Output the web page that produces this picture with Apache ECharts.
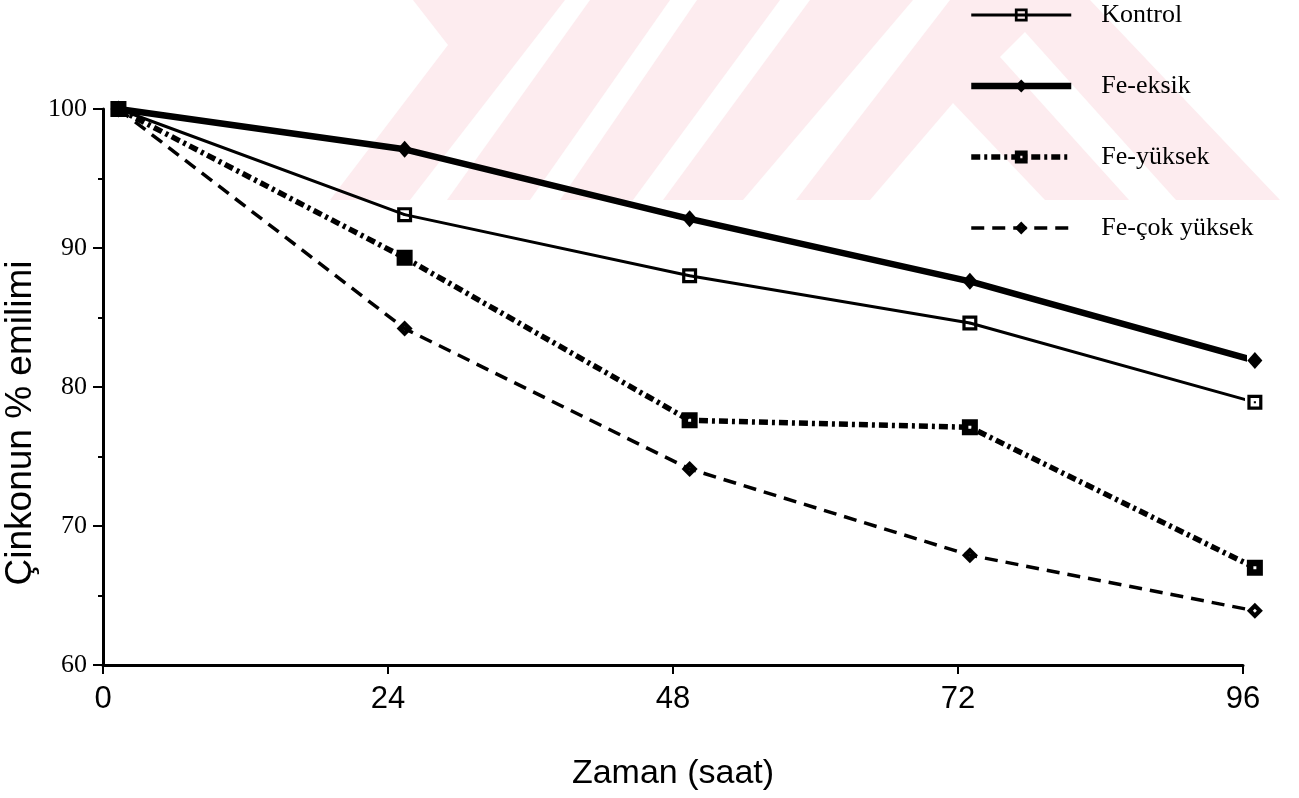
<!DOCTYPE html>
<html>
<head>
<meta charset="utf-8">
<title>Çinkonun % emilimi</title>
<script src="https://cdn.jsdelivr.net/npm/echarts@6/dist/echarts.min.js"></script>
<style>
html, body { margin: 0; padding: 0; background: #fff; }
#chart { width: 1299px; height: 798px; }
</style>
</head>
<body>
<div id="chart"></div>
<script>
// zaman (saat) - noktalar tik'lerin biraz sağında çizilmiş
var saatler = [1.3, 25.4, 49.4, 73.0, 97.0];
var kontrol = [100, 92.4, 88.0, 84.6, 78.9];
var feEksik = [100, 97.1, 92.1, 87.6, 81.9];
var feYuksek = [100, 89.3, 77.6, 77.1, 67.0];
var feCokYuksek = [100, 84.2, 74.1, 67.9, 63.9];
var seriAdlari = ['Kontrol', 'Fe-eksik', 'Fe-yüksek', 'Fe-çok yüksek'];
var xTikler = [0, 24, 48, 72, 96];
var yTikler = [60, 70, 80, 90, 100];

(function(window){

    function ciftler(ys) {
        return saatler.map(function(x, i){ return [x, ys[i]]; });
    }

    // arka plandaki soluk pembe filigran
    function filigran() {
        var pembe = '#fdecef';
        var parcalar = [
            {fill: pembe, pts: [[413,0],[1090,0],[1280,200],[330,200],[448,45]]},
            {fill: '#fff', pts: [[565,0],[590,0],[447,200],[410,200]]},
            {fill: '#fff', pts: [[670,0],[697,0],[560,200],[530,200]]},
            {fill: '#fff', pts: [[780,0],[810,0],[663,200],[633,200]]},
            {fill: '#fff', pts: [[913,0],[950,0],[796,200],[743,200]]},
            {fill: '#fff', pts: [[1025,32],[1000,57],[1129,200],[1176,200]]},
            {fill: '#fff', pts: [[953,103],[870,200],[1045,200]]}
        ];
        return parcalar.map(function(p, i){
            return {
                type: 'polygon', silent: true, z: -10 + i,
                shape: {points: p.pts},
                style: {fill: p.fill}
            };
        });
    }

    var semboller = [
        'path://M0,0H14V14H0Z M3,3V11H11V3Z M6,6H8V8H6Z',
        'diamond',
        'path://M0,0H16V16H0Z M6.5,6.5V9.5H9.5V6.5Z',
        'path://M10,0L20,10L10,20L0,10Z M10,7.5L7.5,10L10,12.5L12.5,10Z'
    ];
    var cizgiler = [
        {color: '#000', width: 3},
        {color: '#000', width: 6.5},
        {color: '#000', width: 5.5, type: [9, 4, 3, 4]},
        {color: '#000', width: 3.5, type: [13, 8]}
    ];

    function drawChart(chartId) {
        var chartBox = echarts.init(document.getElementById(chartId));

        var option = {
            animation: false,
            backgroundColor: '#fff',
            graphic: filigran(),
            legend: {
                orient: 'vertical',
                left: 968,
                top: 0,
                itemWidth: 100,
                itemHeight: 16,
                itemGap: 41,
                padding: 0,
                selectedMode: false,
                data: seriAdlari.map(function(ad, i){
                    return {name: ad, lineStyle: cizgiler[i]};
                }),
                textStyle: {
                    fontFamily: 'Liberation Serif',
                    fontSize: 26,
                    lineHeight: 30,
                    color: '#000',
                    padding: [0, 0, 0, 25]
                }
            },
            grid: {
                left: 103,
                right: 56,
                top: 109,
                bottom: 133,
                outerBoundsMode: 'none'
            },
            xAxis: {
                type: 'value',
                min: xTikler[0],
                max: xTikler[xTikler.length - 1],
                interval: 24,
                name: 'Zaman (saat)',
                nameLocation: 'middle',
                nameGap: 92,
                nameMoveOverlap: false,
                nameTextStyle: {fontFamily: 'Liberation Sans', fontSize: 34, color: '#000'},
                axisLine: {lineStyle: {color: '#000', width: 3}},
                axisTick: {length: 9, lineStyle: {color: '#000', width: 2}},
                axisLabel: {fontFamily: 'Liberation Sans', fontSize: 31, color: '#000', margin: 19},
                splitLine: {show: false}
            },
            yAxis: {
                type: 'value',
                min: yTikler[0],
                max: yTikler[yTikler.length - 1],
                interval: 10,
                name: 'Çinkonun % emilimi',
                nameLocation: 'middle',
                nameGap: 64,
                nameMoveOverlap: false,
                nameTextStyle: {fontFamily: 'Liberation Sans', fontSize: 37, color: '#000', padding: [0, 72, 0, 0]},
                axisLine: {lineStyle: {color: '#000', width: 3}},
                axisTick: {length: 10, lineStyle: {color: '#000', width: 2}},
                minorTick: {show: true, splitNumber: 2, length: 5, lineStyle: {color: '#000', width: 2}},
                axisLabel: {fontFamily: 'Liberation Serif', fontSize: 26, color: '#000', margin: 16},
                splitLine: {show: false}
            },
            series: [
                {
                    name: seriAdlari[0], type: 'line', data: ciftler(kontrol), clip: false,
                    symbol: semboller[0], symbolSize: 15,
                    itemStyle: {color: '#000'},
                    lineStyle: cizgiler[0],
                    emphasis: {disabled: true}, z: 3
                },
                {
                    name: seriAdlari[1], type: 'line', data: ciftler(feEksik), clip: false,
                    symbol: semboller[1], symbolSize: [15, 17],
                    itemStyle: {color: '#000'},
                    lineStyle: cizgiler[1],
                    emphasis: {disabled: true}, z: 3
                },
                {
                    name: seriAdlari[2], type: 'line', data: ciftler(feYuksek), clip: false,
                    symbol: semboller[2], symbolSize: 16,
                    itemStyle: {color: '#000'},
                    lineStyle: cizgiler[2],
                    emphasis: {disabled: true}, z: 3
                },
                {
                    name: seriAdlari[3], type: 'line', data: ciftler(feCokYuksek), clip: false,
                    symbol: semboller[3], symbolSize: 16,
                    itemStyle: {color: '#000'},
                    lineStyle: cizgiler[3],
                    emphasis: {disabled: true}, z: 3
                }
            ]
        };
        chartBox.setOption(option);
    }
    window.drawChart = drawChart;

})(window);

drawChart('chart');
</script>
</body>
</html>
